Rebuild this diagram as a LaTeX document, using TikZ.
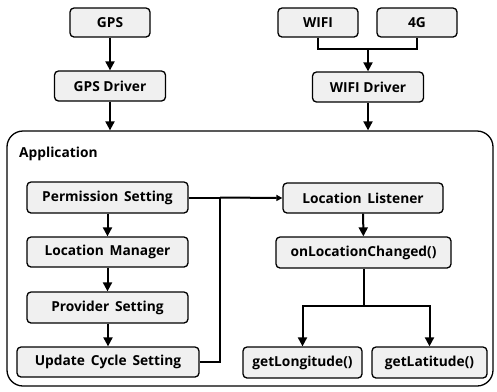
\documentclass[tikz,border=0pt]{standalone}
\usepackage{fontspec}
\IfFontExistsTF{Open Sans Bold}{\setmainfont{Open Sans}[BoldFont={Open Sans Bold}]}{\setmainfont{Liberation Sans}}
\usetikzlibrary{arrows.meta}
\newcommand\wgap{\hspace{0.42em}}
\begin{document}
\begin{tikzpicture}[x=1bp,y=-1bp,
  box/.style={draw=black, line width=1.3bp, fill=black!6, rounded corners=4bp,
    inner sep=0pt, font=\fontsize{13.8}{15}\selectfont\bfseries},
  link/.style={line width=2bp, draw=black},
  arr/.style={link, -{Triangle[length=9bp,width=9bp]}},
  arrs/.style={link, -{Triangle[length=6bp,width=6bp]}}]
\useasboundingbox (0,0) rectangle (497,391);

% application frame
\node[draw=black, line width=1.3bp, rounded corners=16bp, minimum width=486bp,
  minimum height=255bp, inner sep=0pt] (app) at (250,258.5) {};
\node[anchor=west, font=\fontsize{13.8}{15}\selectfont\bfseries, inner sep=0pt] (apptitle) at (19,154) {Application};

% hardware sources and drivers
\node[box, minimum width=80bp, minimum height=29bp] (gps) at (110,22.5) {GPS};
\node[box, minimum width=111bp, minimum height=30bp] (gpsd) at (110,86) {GPS Driver};
\node[box, minimum width=80bp, minimum height=29bp] (wifi) at (318,22.5) {WIFI};
\node[box, minimum width=80bp, minimum height=29bp] (g4) at (417,22.5) {4G};
\node[box, minimum width=111bp, minimum height=30bp] (wd) at (368,87) {WIFI Driver};

% application steps
\node[box, minimum width=161bp, minimum height=31bp] (perm) at (107.5,197.5) {Permission\wgap Setting};
\node[box, minimum width=161bp, minimum height=30bp] (lm) at (107.5,252) {Location\wgap Manager};
\node[box, minimum width=161bp, minimum height=31bp] (prov) at (107.5,307.5) {Provider\wgap Setting};
\node[box, minimum width=182bp, minimum height=30bp] (upd) at (108,362) {Update\wgap Cycle\wgap Setting};

\node[box, minimum width=160bp, minimum height=30bp] (ll) at (363,198) {Location\wgap Listener};
\node[box, minimum width=175bp, minimum height=31bp] (olc) at (363.5,252.5) {onLocationChanged()};
\node[box, minimum width=119bp, minimum height=31bp] (lon) at (302.5,362.5) {getLongitude()};
\node[box, minimum width=115bp, minimum height=31bp] (lat) at (429.5,362.5) {getLatitude()};

% connectors
\draw[arr] (gps) -- (gpsd);
\draw[arr] (gpsd) -- (gpsd.south |- app.north);
\coordinate (wm) at (368,49);
\draw[link] (wifi.south) |- (g4.south |- wm) -- (g4.south);
\draw[arr] (wm) -- (wd);
\draw[arr] (wd) -- (wd.south |- app.north);

\draw[arr] (perm) -- (lm);
\draw[arr] (lm) -- (prov);
\draw[arr] (prov.south -| upd.north) -- (upd.north);

\coordinate (pj) at (220,197.5);
\draw[link] (perm.east) -- (pj);
\draw[link] (upd.east) -| (pj);
\draw[arrs] (pj) -- (ll.west);

\draw[arr] (ll) -- (olc);
\coordinate (bj) at (363.5,306);
\draw[link] (olc) -- (bj);
\draw[arr] (bj) -| (lon.north);
\draw[arr] (bj) -| (lat.north);
\end{tikzpicture}
\end{document}
